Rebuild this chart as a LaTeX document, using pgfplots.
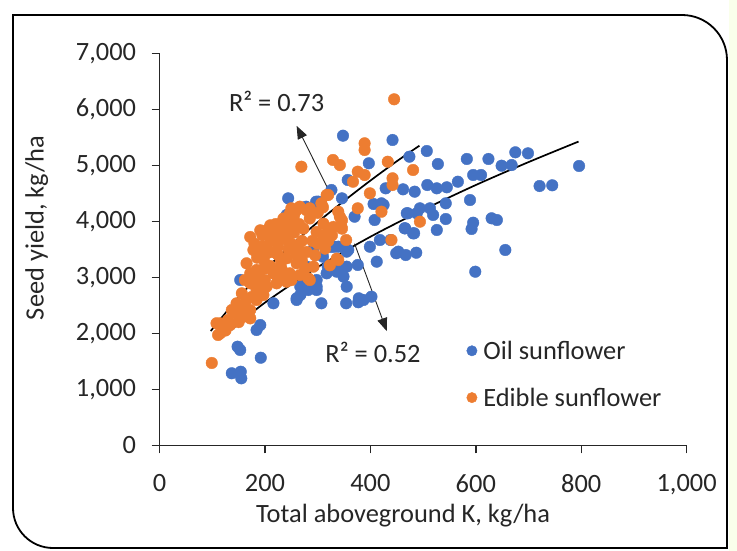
\documentclass[border=0pt]{standalone}
\usepackage{fontspec}
\setmainfont{Carlito}
\usepackage{pgfplots}
\pgfplotsset{compat=1.18}
\usetikzlibrary{arrows.meta}

\definecolor{oilblue}{HTML}{4472C4}
\definecolor{edibleorange}{HTML}{ED7D31}
\definecolor{axisgray}{HTML}{262626}

% oil sunflower: total aboveground K (kg/ha), seed yield (kg/ha)
\pgfplotstableread{
x y
583 5113
624 5113
528 5023
675 5232
699 5214
649 4993
668 5005
796 4988
595 4827
610 4827
566 4707
545 4607
526 4589
721 4630
745 4643
589 4380
543 4321
630 4054
640 4023
543 4041
595 3975
592 3863
526 3845
656 3488
599 3100
348 5529
442 5452
397 5036
474 5154
507 5255
357 4738
429 4589
462 4571
484 4529
508 4648
326 4559
297 4350
278 4261
406 4309
421 4321
370 4082
408 4023
471 4143
494 4232
513 4232
519 4113
465 3875
483 3786
418 3666
438 3666
323 3546
332 3546
354 3488
399 3546
449 3429
467 3398
487 3439
291 3488
310 3368
319 3189
342 3161
376 3220
412 3279
307 2536
354 2536
378 2625
402 2654
377 2554
244 4410
241 4113
301 4351
346 4410
425 4292
469 4143
488 4143
466 3874
481 3785
453 3458
327 3547
339 3547
358 3488
279 3190
298 2952
317 3071
267 2833
292 2803
355 2833
387 2595
349 3012
148 1761
153 1702
137 1286
154 1314
155 1196
192 1564
184 2059
191 2148
216 2536
260 2595
267 2684
298 2773
153 2952
260 2625
298 2833
336 3101
355 3190
355 3458
273 2892
282 2773
}\oiltable

% edible sunflower
\pgfplotstableread{
x y
445 6179
389 5393
389 5273
269 4975
329 5095
342 5005
433 5064
481 4916
442 4768
442 4648
376 4886
389 4827
367 4707
399 4500
317 4470
307 4321
376 4232
421 4171
494 3993
440 3666
354 3666
339 3309
282 2982
342 4082
345 3904
317 3786
250 4232
266 4261
285 4232
320 4470
339 4172
311 3958
279 4196
260 4196
247 4136
254 3958
273 3869
298 3809
311 3720
327 3750
346 4018
346 3869
172 3720
191 3839
210 3928
222 3839
216 3660
235 3690
247 3601
263 3512
279 3452
295 3393
314 3512
336 3333
323 3214
178 3488
191 3369
203 3547
222 3428
241 3339
260 3250
276 3161
292 3190
266 3041
285 2952
165 3250
172 3071
184 3131
200 3160
216 3071
232 3131
247 3071
241 2922
222 2892
203 2833
184 2773
172 2892
162 2952
156 2714
165 2595
184 2595
197 2684
146 2535
137 2416
156 2386
172 2416
159 2297
172 2267
130 2238
115 2178
115 2000
134 2148
99 1470
111 1970
108 2179
230 3300
250 3600
200 3400
210 3700
240 3900
225 3550
190 3000
260 3400
180 2900
230 3200
180 3600
195 3750
205 3850
220 3950
235 4050
255 4100
265 3950
285 4050
300 4150
310 4250
290 3650
270 3650
255 3800
240 3750
225 3700
200 3250
185 3350
210 3200
220 3050
235 3000
250 2950
200 2950
190 2800
175 2650
160 2500
150 2200
145 2350
125 2050
260 3550
300 3600
320 3650
330 3900
225 3400
245 3500
270 3300
195 3550
210 3450
}\edibletable

\begin{document}
\begin{tikzpicture}
\fill[green!25!yellow!8!white] (569.4bp,-105.7bp) rectangle (577.4bp,445.3bp);
\begin{axis}[
    scale only axis,
    width=527bp, height=392bp,
    xmin=0, xmax=1000, ymin=0, ymax=7000,
    xtick={0,200,...,1000},
    ytick={0,1000,...,7000},
    scaled ticks=false,
    /pgf/number format/1000 sep={,},
    /pgf/number format/assume math mode=true,
    axis x line*=bottom, axis y line*=left,
    axis line style={axisgray, line width=1.4bp},
    tick align=outside,
    major tick length=8bp,
    tick style={axisgray, line width=1.4bp},
    tick label style={font=\fontsize{26.5}{31}\selectfont, text=axisgray},
    xticklabel style={yshift=-18bp},
    yticklabel style={xshift=-12bp},
    label style={font=\fontsize{26.5}{31}\selectfont, text=axisgray},
    xlabel={Total aboveground K, kg/ha},
    ylabel={Seed yield, kg/ha},
    every axis x label/.append style={at={(axis description cs:0.462,-0.18)}, anchor=center},
    every axis y label/.append style={at={(axis description cs:-0.233,0.554)}, anchor=center},
    legend style={draw=none, fill=none, at={(axis description cs:0.582,0.272)},
        anchor=north west, font=\fontsize{26.5}{31}\selectfont, text=axisgray,
        row sep=23bp, inner sep=0pt, nodes={inner sep=2bp},
        /tikz/every odd column/.append style={column sep=4bp}},
    legend image code/.code={\fill[#1] (0.3cm,0cm) circle[radius=5.2bp];},
    legend cell align=left,
    clip=false,
]
\addplot[only marks, mark=*, mark size=5.8bp, oilblue]
    table[x=x, y=y] {\oiltable};
\addlegendentry{Oil sunflower}
\addplot[only marks, mark=*, mark size=5.8bp, edibleorange]
    table[x=x, y=y] {\edibletable};
\addlegendentry{Edible sunflower}

% trend lines
\addplot[black, line width=1.7bp, smooth, forget plot] coordinates {
    (97,2040) (150,2642) (200,3133) (250,3576) (300,3984) (350,4364) (400,4727) (450,5072) (493,5350)};
\addplot[black, line width=1.7bp, smooth, forget plot] coordinates {
    (136,2063) (200,2548) (300,3181) (400,3724) (500,4204) (600,4648) (700,5057) (795,5424)};

\draw[axisgray, line width=0.9bp, -{Triangle[length=13bp, width=10bp]}]
    (axis cs:328,4420) -- (axis cs:260,5704);
\draw[axisgray, line width=0.9bp, -{Triangle[length=13bp, width=10bp]}]
    (axis cs:370,3600) -- (axis cs:431,2040);
\node[font=\fontsize{26.5}{31}\selectfont, text=axisgray] at (axis cs:222,6148) {R² = 0.73};
\node[font=\fontsize{26.5}{31}\selectfont, text=axisgray] at (axis cs:405,1666) {R² = 0.52};
\end{axis}
\draw[black, line width=1.8bp] (-146.6bp,430.3bp) -- (522.4bp,430.3bp)
    arc[start angle=90, end angle=0, radius=45bp] -- (567.4bp,-102.7bp)
    -- (-106.6bp,-102.7bp) arc[start angle=270, end angle=180, radius=40bp] -- cycle;
\path[use as bounding box] (-159.6bp,-105.7bp) rectangle (577.4bp,445.3bp);
\end{tikzpicture}
\end{document}
